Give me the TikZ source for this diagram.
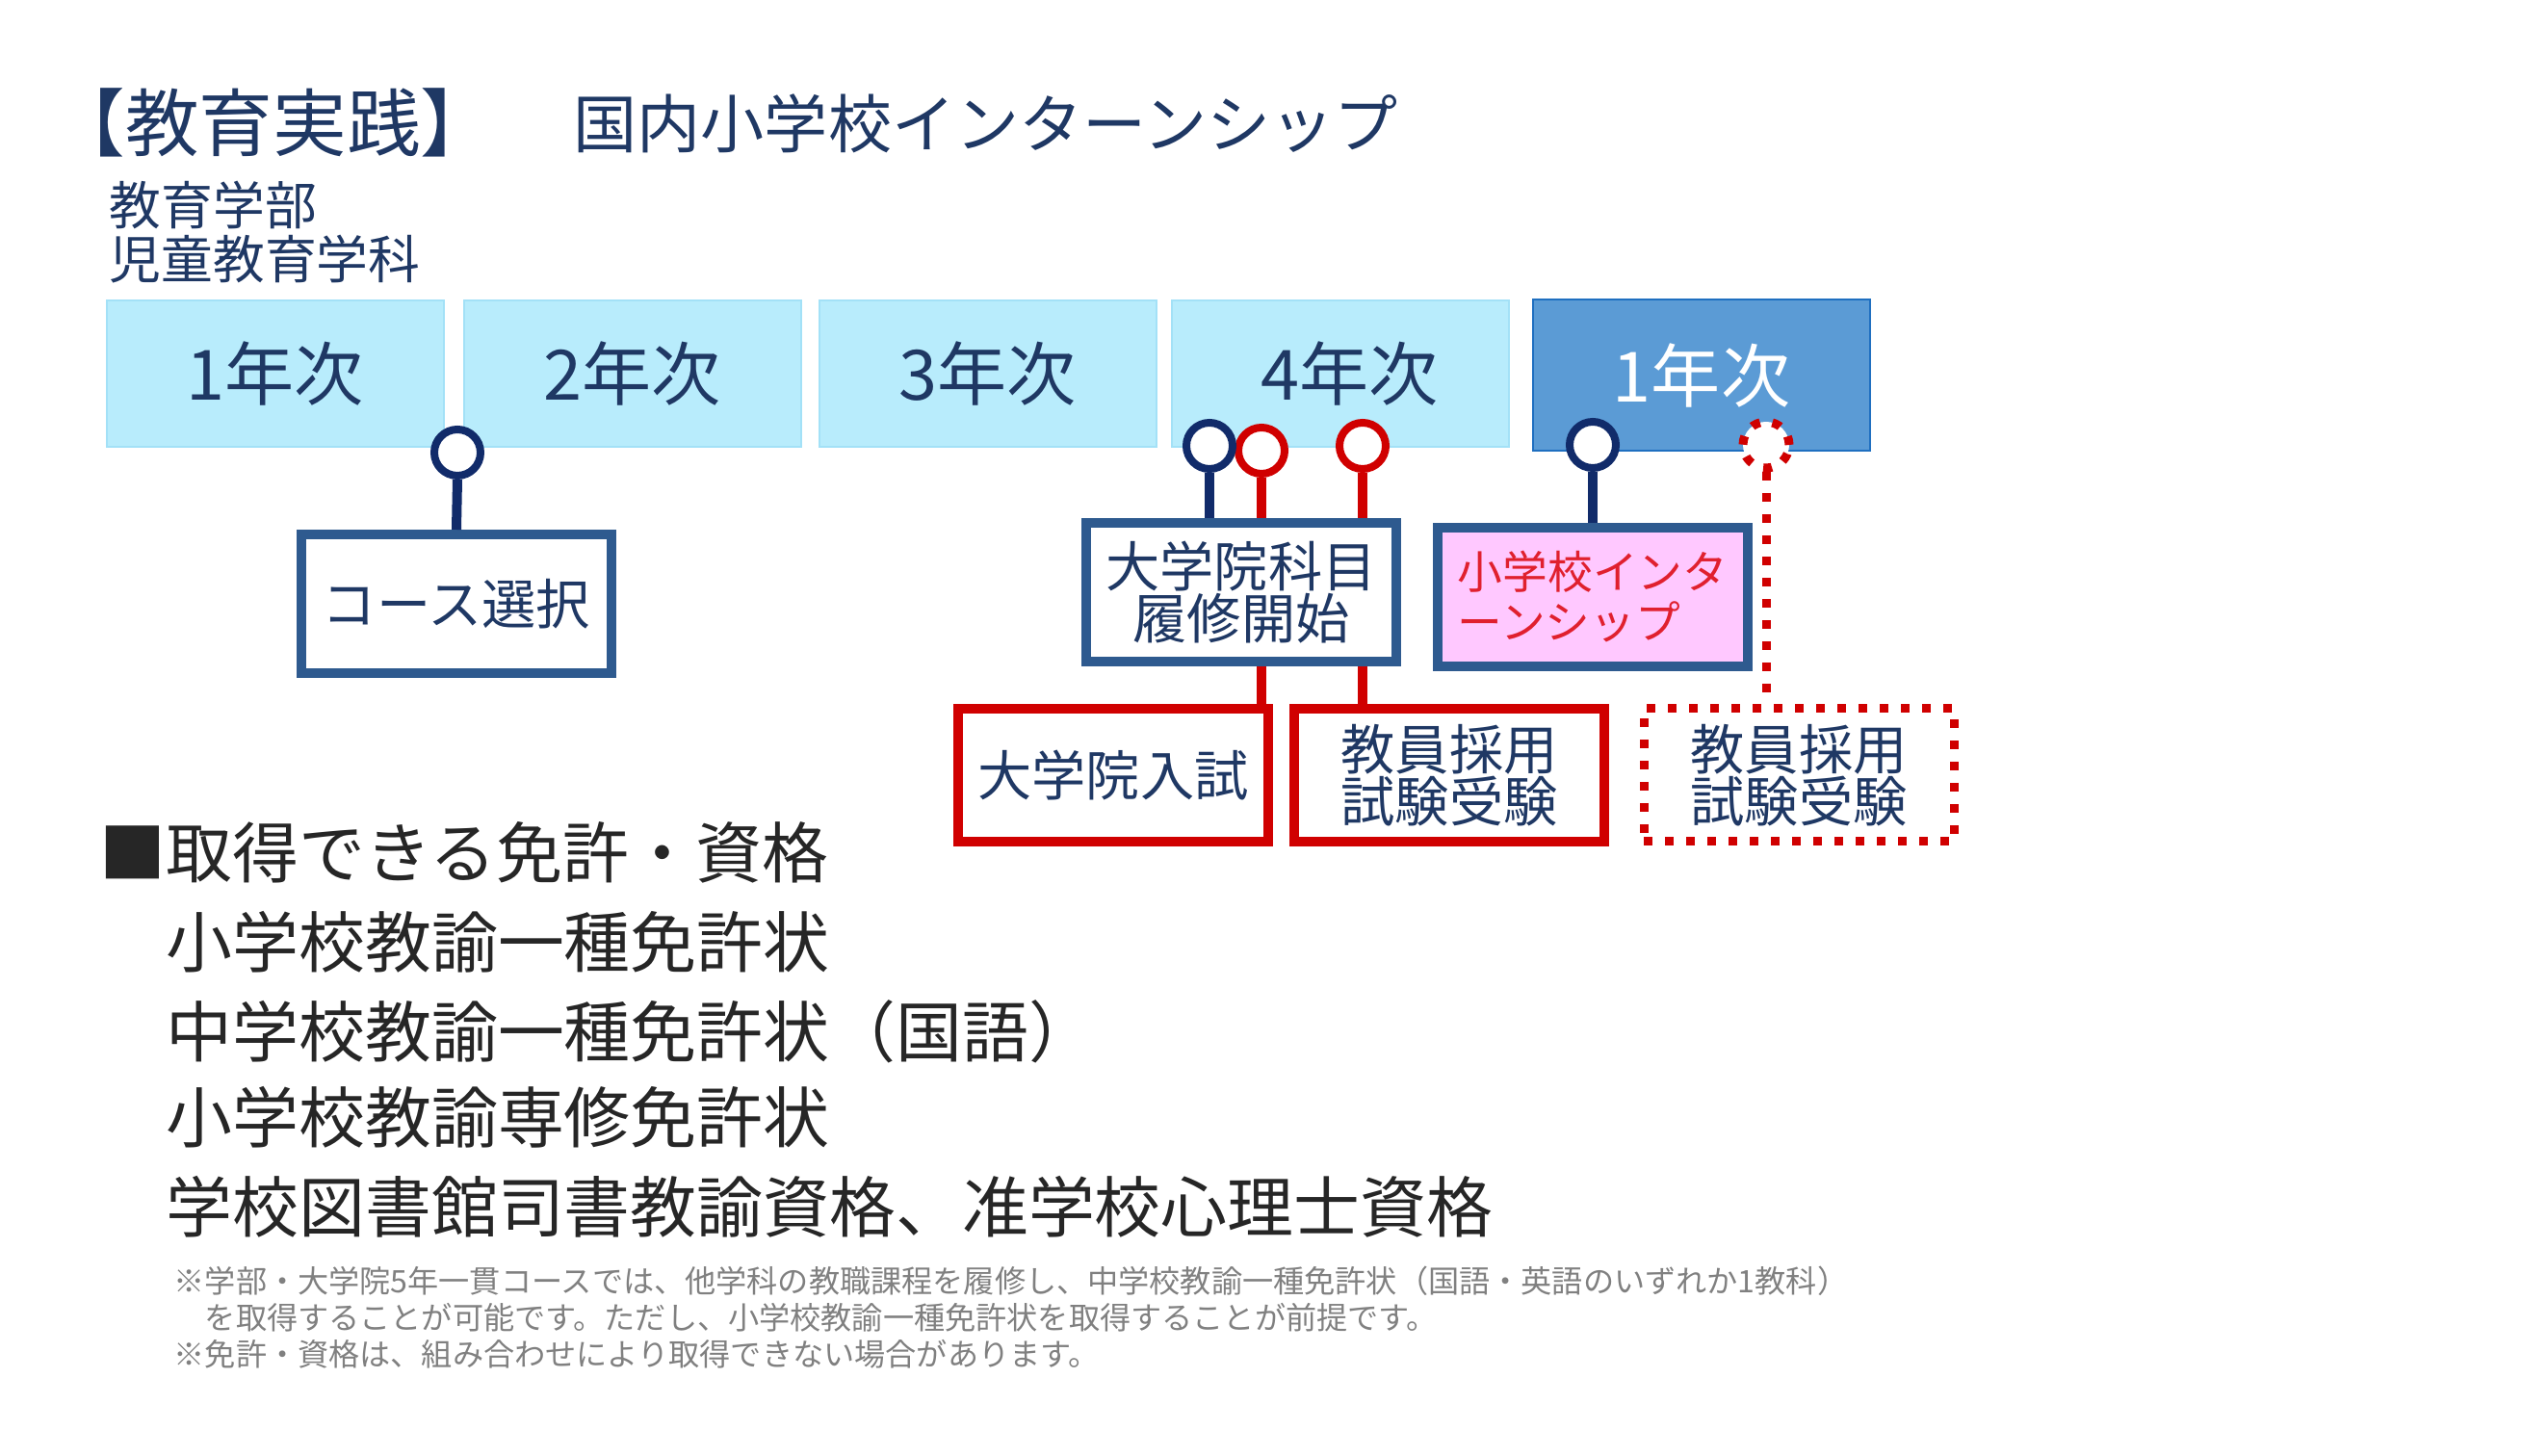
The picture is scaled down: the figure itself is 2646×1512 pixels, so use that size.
\documentclass[tikz,border=0pt]{standalone}
\usepackage{fontspec}
\setmainfont{Noto Sans CJK JP}

\definecolor{navytext}{HTML}{1F3864}
\definecolor{navyline}{HTML}{112B6A}
\definecolor{boxedge}{HTML}{2E5A8F}
\definecolor{lightfill}{HTML}{B8ECFC}
\definecolor{lightedge}{HTML}{A3E1F7}
\definecolor{darkfill}{HTML}{5B9BD5}
\definecolor{darkedge}{HTML}{1F6FC0}
\definecolor{pinkfill}{HTML}{FFC8FF}
\definecolor{pinktext}{HTML}{E0202E}
\definecolor{redline}{HTML}{D00000}
\definecolor{blacktext}{HTML}{262626}
\definecolor{notegray}{HTML}{808080}

\tikzset{
  yearbox/.style={draw=lightedge, fill=lightfill, line width=0.2mm, minimum width=35mm, minimum height=15.2mm, inner sep=0pt, text=navytext, font=\fontsize{20.5}{24}\selectfont},
  eventbox/.style={draw=boxedge, fill=white, line width=1mm, minimum width=32.2mm, minimum height=14.4mm, inner sep=0pt, text=navytext, align=center, font=\fontsize{16}{15.4}\selectfont},
  exambox/.style={eventbox, draw=redline, minimum height=13.8mm},
  knob/.style={circle, fill=white, line width=0.8mm, minimum size=4.8mm, inner sep=0pt},
  dotline/.style={dash pattern=on 0.9mm off 1.3mm},
  stem/.style={line width=1mm},
  textline/.style={anchor=base west, inner sep=0pt}
}

\begin{document}
\begin{tikzpicture}[x=0.1mm, y=-0.1mm]
\useasboundingbox (0,0) rectangle (2646,1512);

% heading
\node[textline, text=navytext, font=\fontsize{21.8}{26}\selectfont] (head) at (53,157) {【教育実践】};
\node[textline, text=navytext, font=\fontsize{18.8}{22}\selectfont] (topic) at (595,154) {国内小学校インターンシップ};
\node[textline, text=navytext, font=\fontsize{15.3}{18}\selectfont] (fac) at (113,234) {教育学部};
\node[textline, text=navytext, font=\fontsize{15.3}{18}\selectfont] (dept) at (113,290) {児童教育学科};

% years
\node[yearbox] (y1) at (286,388) {1年次};
\node[yearbox] (y2) at (657,388) {2年次};
\node[yearbox] (y3) at (1026,388) {3年次};
\node[yearbox] (y4) at (1392,388) {\hspace*{2mm}4年次};
\node[yearbox, draw=darkedge, fill=darkfill, text=white, minimum height=15.7mm] (g1) at (1767,390) {1年次};

% events
\node[eventbox] (course) at (474,627) {コース選択};
\node[eventbox] (gradsub) at (1289,615) {大学院科目\\履修開始};
\node[eventbox, fill=pinkfill, text=pinktext, align=left, font=\fontsize{13.3}{14.8}\selectfont] (intern) at (1654,620) {小学校インタ\\ーンシップ};

\node[exambox] (gradexam) at (1156,805) {大学院入試};
\node[exambox] (hire) at (1505,805) {教員採用\\試験受験};
\node[exambox, dotline, line width=0.9mm] (hire2) at (1868,805) {教員採用\\試験受験};

% knobs
\node[knob, draw=redline] (k3) at (1310,468) {};
\node[knob, draw=navyline] (k1) at (475,470) {};
\node[knob, draw=navyline] (k2) at (1256,463) {};
\node[knob, draw=redline] (k4) at (1415,463) {};
\node[knob, draw=navyline] (k5) at (1654,462) {};
\node[knob, draw=redline, dotline, line width=0.9mm] (k6) at (1834,462) {};

\draw[stem, navyline] (k1.south) -- (course.north);
\draw[stem, navyline] (k2.south) -- (k2.south |- gradsub.north);
\draw[stem, redline] (k3.south) -- (k3.south |- gradsub.north);
\draw[stem, redline] (k3.south |- gradsub.south) -- (k3.south |- gradexam.north);
\draw[stem, redline] (k4.south) -- (k4.south |- gradsub.north);
\draw[stem, redline] (k4.south |- gradsub.south) -- (k4.south |- hire.north);
\draw[stem, navyline] (k5.south) -- (intern.north);
\draw[stem, redline, dotline, line width=0.9mm] (k6.south) -- (k6.south |- hire2.north);

% licences
\node[textline, text=blacktext, font=\fontsize{19.6}{26}\selectfont] (lic0) at (103,912) {■取得できる免許・資格};
\node[textline, text=blacktext, font=\fontsize{19.6}{26}\selectfont] (lic1) at (103,1005) {　小学校教諭一種免許状};
\node[textline, text=blacktext, font=\fontsize{19.6}{26}\selectfont] (lic2) at (103,1098) {　中学校教諭一種免許状（国語）};
\node[textline, text=blacktext, font=\fontsize{19.6}{26}\selectfont] (lic3) at (103,1187) {　小学校教諭専修免許状};
\node[textline, text=blacktext, font=\fontsize{19.6}{26}\selectfont] (lic4) at (103,1280) {　学校図書館司書教諭資格、准学校心理士資格};

% notes
\node[textline, text=notegray, font=\fontsize{9.15}{11}\selectfont] (n1) at (180,1343) {※学部・大学院5年一貫コースでは、他学科の教職課程を履修し、中学校教諭一種免許状（国語・英語のいずれか1教科）};
\node[textline, text=notegray, font=\fontsize{9.15}{11}\selectfont] (n2) at (180,1381) {　を取得することが可能です。ただし、小学校教諭一種免許状を取得することが前提です。};
\node[textline, text=notegray, font=\fontsize{9.15}{11}\selectfont] (n3) at (180,1419) {※免許・資格は、組み合わせにより取得できない場合があります。};
\end{tikzpicture}
\end{document}
